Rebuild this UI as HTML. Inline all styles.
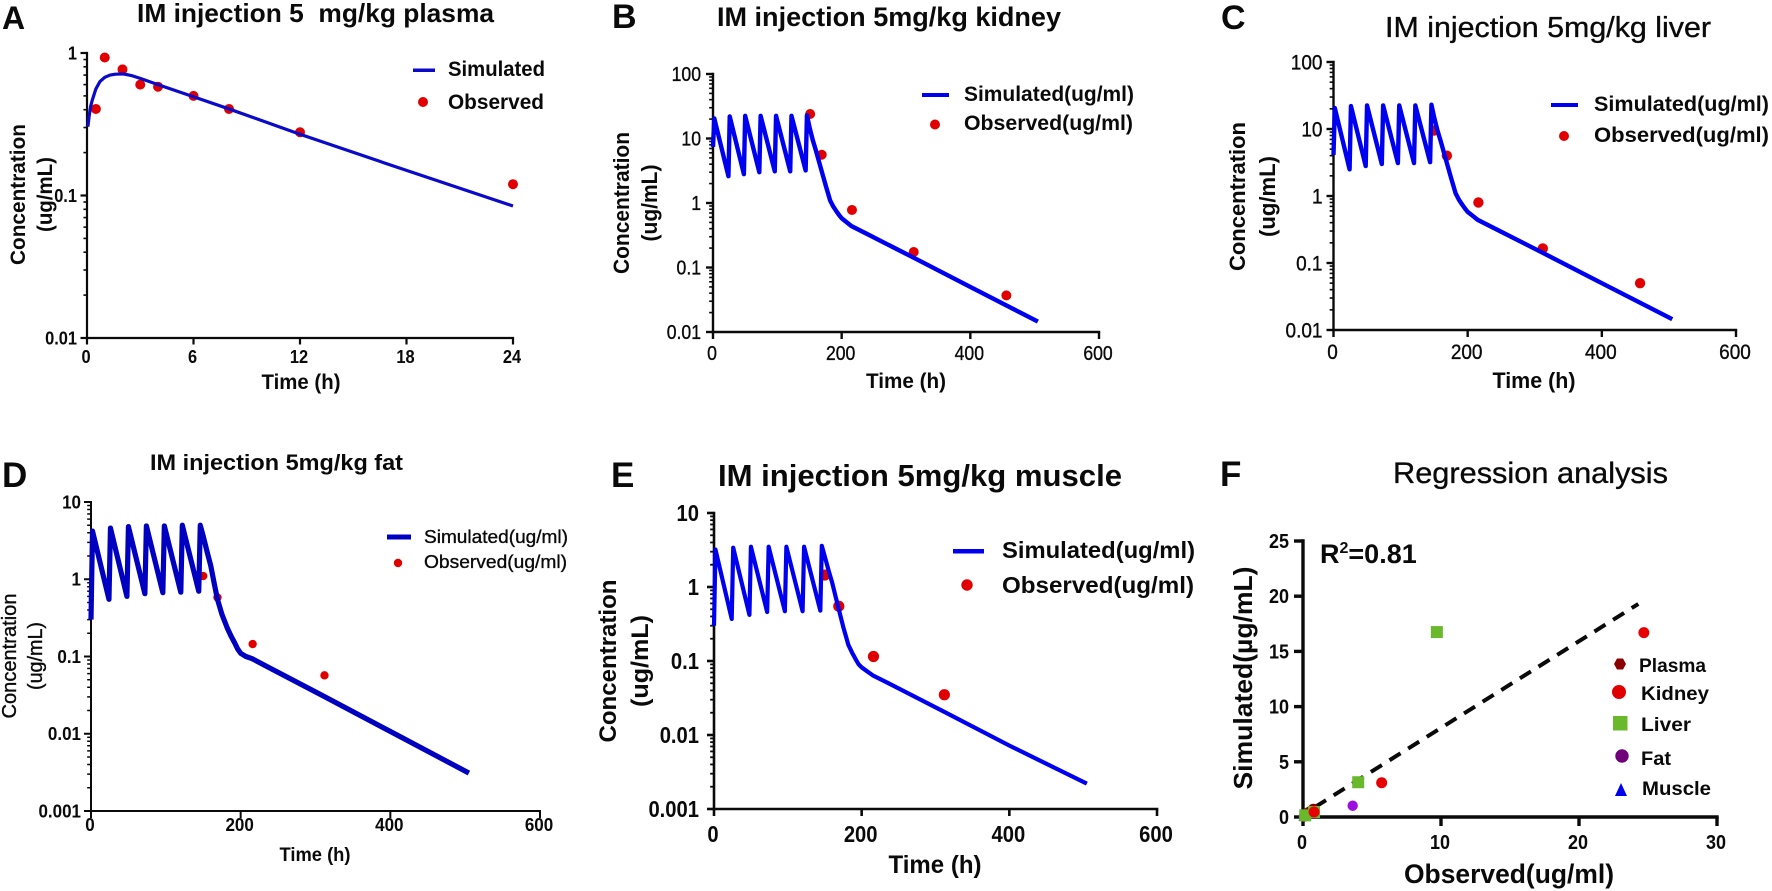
<!DOCTYPE html>
<html>
<head>
<meta charset="utf-8">
<title>IM injection 5 mg/kg simulated vs observed concentrations</title>
<style>
html,body{margin:0;padding:0;background:#fff}
svg{display:block}
text{font-family:"Liberation Sans","DejaVu Sans",sans-serif;fill:#0a0a0a;white-space:pre}
.b{font-weight:bold}
.m{stroke:#0a0a0a;stroke-width:.35px}
</style>
</head>
<body>
<svg id="fig" xmlns="http://www.w3.org/2000/svg" width="1772" height="891" viewBox="0 0 1772 891">
<g>
<text class="b" x="2" y="29" font-size="32">A</text>
<text class="b" x="612" y="28" font-size="34">B</text>
<text class="b" x="1221" y="29" font-size="34">C</text>
<text class="b" x="2" y="487" font-size="35">D</text>
<text class="b" x="611" y="487" font-size="35">E</text>
<text class="b" x="1220" y="486" font-size="35">F</text>
</g>
<g>
<text class="b" x="137" y="22" font-size="26" textLength="357" lengthAdjust="spacingAndGlyphs">IM injection 5  mg/kg plasma</text>
<text class="b" x="717" y="26" font-size="27" textLength="344" lengthAdjust="spacingAndGlyphs">IM injection 5mg/kg kidney</text>
<text class="m" x="1385" y="37" font-size="29" textLength="326" lengthAdjust="spacingAndGlyphs">IM injection 5mg/kg liver</text>
<text class="b" x="150" y="470" font-size="22" textLength="253" lengthAdjust="spacingAndGlyphs">IM injection 5mg/kg fat</text>
<text class="b" x="718" y="486" font-size="31" textLength="404" lengthAdjust="spacingAndGlyphs">IM injection 5mg/kg muscle</text>
<text class="m" x="1393" y="483" font-size="30" textLength="275" lengthAdjust="spacingAndGlyphs">Regression analysis</text>
</g>
<g>
<text class="b" transform="translate(25,194.5) rotate(-90)" text-anchor="middle" font-size="21.5" textLength="141" lengthAdjust="spacingAndGlyphs">Concentration</text>
<text class="b" transform="translate(52,194.5) rotate(-90)" text-anchor="middle" font-size="21.5" textLength="75" lengthAdjust="spacingAndGlyphs">(ug/mL)</text>
<text class="b" x="301" y="389" text-anchor="middle" font-size="21" textLength="79" lengthAdjust="spacingAndGlyphs">Time (h)</text>

<text class="b" transform="translate(629,203) rotate(-90)" text-anchor="middle" font-size="22" textLength="142" lengthAdjust="spacingAndGlyphs">Concentration</text>
<text class="b" transform="translate(657,203) rotate(-90)" text-anchor="middle" font-size="22" textLength="77" lengthAdjust="spacingAndGlyphs">(ug/mL)</text>
<text class="b" x="906" y="388" text-anchor="middle" font-size="21" textLength="80" lengthAdjust="spacingAndGlyphs">Time (h)</text>

<text class="b" transform="translate(1245,196.5) rotate(-90)" text-anchor="middle" font-size="22.5" textLength="149" lengthAdjust="spacingAndGlyphs">Concentration</text>
<text class="b" transform="translate(1275,196.5) rotate(-90)" text-anchor="middle" font-size="22.5" textLength="81" lengthAdjust="spacingAndGlyphs">(ug/mL)</text>
<text class="b" x="1534" y="388" text-anchor="middle" font-size="22" textLength="83" lengthAdjust="spacingAndGlyphs">Time (h)</text>

<text class="m" transform="translate(16,656) rotate(-90)" text-anchor="middle" font-size="20" textLength="125" lengthAdjust="spacingAndGlyphs">Concentration</text>
<text class="m" transform="translate(42,656) rotate(-90)" text-anchor="middle" font-size="20" textLength="68" lengthAdjust="spacingAndGlyphs">(ug/mL)</text>
<text class="b" x="315" y="861" text-anchor="middle" font-size="19" textLength="71" lengthAdjust="spacingAndGlyphs">Time (h)</text>

<text class="b" transform="translate(616,661) rotate(-90)" text-anchor="middle" font-size="24.5" textLength="163" lengthAdjust="spacingAndGlyphs">Concentration</text>
<text class="b" transform="translate(648,661) rotate(-90)" text-anchor="middle" font-size="24.5" textLength="92" lengthAdjust="spacingAndGlyphs">(ug/mL)</text>
<text class="b" x="935" y="873" text-anchor="middle" font-size="25" textLength="93" lengthAdjust="spacingAndGlyphs">Time (h)</text>

<text class="b" transform="translate(1252,678) rotate(-90)" text-anchor="middle" font-size="26" textLength="223" lengthAdjust="spacingAndGlyphs">Simulated(µg/mL)</text>
<text class="b" x="1509" y="883" text-anchor="middle" font-size="27" textLength="210" lengthAdjust="spacingAndGlyphs">Observed(ug/ml)</text>
</g>
<g>
<rect x="413" y="68.5" width="22" height="3.5" fill="#0a0ac8"/>
<text class="b" x="448" y="76" font-size="21" textLength="97" lengthAdjust="spacingAndGlyphs">Simulated</text>
<circle cx="423" cy="102" r="5" fill="#e00000"/>
<text class="b" x="448" y="109" font-size="21" textLength="96" lengthAdjust="spacingAndGlyphs">Observed</text>
</g>
<g>
<rect x="922" y="93" width="27" height="4" fill="#0000f0"/>
<text class="b" x="964" y="101" font-size="21.5" textLength="170" lengthAdjust="spacingAndGlyphs">Simulated(ug/ml)</text>
<circle cx="935" cy="124.5" r="5" fill="#e00000"/>
<text class="b" x="964" y="130" font-size="21.5" textLength="169" lengthAdjust="spacingAndGlyphs">Observed(ug/ml)</text>
</g>
<g>
<rect x="1551" y="103" width="27" height="4" fill="#0000f0"/>
<text class="b" x="1594" y="111" font-size="21.5" textLength="175" lengthAdjust="spacingAndGlyphs">Simulated(ug/ml)</text>
<circle cx="1564" cy="136" r="5" fill="#e00000"/>
<text class="b" x="1594" y="142" font-size="21.5" textLength="175" lengthAdjust="spacingAndGlyphs">Observed(ug/ml)</text>
</g>
<g>
<rect x="387" y="534.5" width="24" height="5" fill="#0000c0"/>
<text class="m" x="424" y="543" font-size="18.5" textLength="144" lengthAdjust="spacingAndGlyphs">Simulated(ug/ml)</text>
<circle cx="398" cy="563" r="4.2" fill="#e00000"/>
<text class="m" x="424" y="568" font-size="18.5" textLength="143" lengthAdjust="spacingAndGlyphs">Observed(ug/ml)</text>
</g>
<g>
<rect x="953" y="549" width="31" height="4.5" fill="#0000f0"/>
<text class="b" x="1002" y="558" font-size="23.5" textLength="193" lengthAdjust="spacingAndGlyphs">Simulated(ug/ml)</text>
<circle cx="967" cy="585" r="5.7" fill="#e00000"/>
<text class="b" x="1002" y="593" font-size="23.5" textLength="192" lengthAdjust="spacingAndGlyphs">Observed(ug/ml)</text>
</g>
<g>
<polygon points="1614,664 1617,658.5 1623,658.5 1626,664 1623,669.5 1617,669.5" fill="#8b0000"/>
<text class="b" x="1639" y="672" font-size="19" textLength="67" lengthAdjust="spacingAndGlyphs">Plasma</text>
<circle cx="1619" cy="692" r="7" fill="#e00000"/>
<text class="b" x="1641" y="700" font-size="19" textLength="68" lengthAdjust="spacingAndGlyphs">Kidney</text>
<rect x="1613" y="716" width="14.5" height="14.5" fill="#6ab92d"/>
<text class="b" x="1641" y="731" font-size="19" textLength="50" lengthAdjust="spacingAndGlyphs">Liver</text>
<circle cx="1622" cy="756" r="6.7" fill="#70007a"/>
<text class="b" x="1641" y="765" font-size="19" textLength="30" lengthAdjust="spacingAndGlyphs">Fat</text>
<polygon points="1621,783 1627,796 1615,796" fill="#0000f0"/>
<text class="b" x="1642" y="795" font-size="19" textLength="69" lengthAdjust="spacingAndGlyphs">Muscle</text>
</g>
<text class="b" x="1320" y="563" font-size="27">R<tspan dy="-10" font-size="16">2</tspan><tspan dy="10">=0.81</tspan></text>
<g id="plots"></g>
</svg>
<script>
// Shared simulation time base for the repeated-dosing tissues (hours)
const doseTime = [0,2,24,26,48,50,72,74,96,98,120,122,144,146,150,155,160,165,169,175,182,187,192,196,200,207,215,240,310,400,505];

// Panel A: plasma
const plasmaTime = [0.05,0.12,0.2,0.3,0.5,0.73,1,1.3,1.6,2.05,2.5,3,4,6,8,12,18,24];
const plasmaSimulated = [0.304,0.36,0.42,0.468,0.56,0.63,0.675,0.70,0.71,0.713,0.695,0.664,0.60,0.493,0.405,0.269,0.15,0.0844];
const plasmaObsTime = [0.5,1,2,3,4,6,8,12,24];
const plasmaObserved = [0.405,0.93,0.767,0.60,0.58,0.50,0.405,0.278,0.12];
const plasmaXTicks = [0,6,12,18,24];
const plasmaYTicks = [1,0.1,0.01];

// Panel B: kidney
const kidneySimulated = [7.4,20.5,2.6,22,2.8,22.5,3,22.5,3.1,22.5,3.1,22.5,3.2,23,15,9.5,6.5,4.3,3.1,1.9,1.1,0.88,0.74,0.65,0.58,0.51,0.44,0.329,0.145,0.05,0.0145];
const kidneyObsTime = [151,169,216,312,456];
const kidneyObserved = [24,5.6,0.78,0.174,0.037];
const kidneyXTicks = [0,200,400,600];
const kidneyYTicks = [100,10,1,0.1,0.01];

// Panel C: liver
const liverSimulated = [4.1,20.5,2.5,22,2.8,22.5,3,22.5,3.1,22.5,3.1,22.5,3.2,23,15,9.5,6.5,4.3,3.1,1.9,1.1,0.88,0.74,0.65,0.58,0.51,0.44,0.329,0.145,0.05,0.0145];
const liverObsTime = [150,169,216,312,457];
const liverObserved = [9.5,4,0.8,0.165,0.05];
const liverXTicks = [0,200,400,600];
const liverYTicks = [100,10,1,0.1,0.01];

// Panel D: fat
const fatSimulated = [0.3,4.2,0.55,4.6,0.6,4.8,0.65,4.9,0.67,4.9,0.68,5,0.7,5,3.6,2.3,1.5,0.85,0.55,0.35,0.235,0.185,0.15,0.125,0.11,0.1,0.094,0.07,0.031,0.0107,0.0031];
const fatObsTime = [150,169,216,312];
const fatObserved = [1.1,0.58,0.145,0.057];
const fatXTicks = [0,200,400,600];
const fatYTicks = [10,1,0.1,0.01,0.001];

// Panel E: muscle
const muscleSimulated = [0.3,3.2,0.37,3.4,0.42,3.5,0.46,3.5,0.47,3.5,0.47,3.5,0.48,3.6,2.6,1.7,1.15,0.72,0.5,0.29,0.165,0.13,0.105,0.09,0.082,0.073,0.064,0.048,0.021,0.0072,0.0022];
const muscleObsTime = [150,169,216,312];
const muscleObserved = [1.45,0.55,0.115,0.035];
const muscleXTicks = [0,200,400,600];
const muscleYTicks = [10,1,0.1,0.01,0.001];

// Panel F: regression, observed vs simulated
const regressionXTicks = [0,10,20,30];
const regressionYTicks = [0,5,10,15,20,25];
const fitObserved = [0.87,24.3];
const fitSimulated = [0.9,19.3];
const muscleScatterObs = [0.115,0.035];
const muscleScatterSim = [0.07,0.02];
const fatScatterObs = [3.6,0.58,0.14,0.06];
const fatScatterSim = [1.02,0.5,0.1,0.03];
const plasmaScatterObs = [0.75,0.6,0.5,0.4,0.28,0.12];
const plasmaScatterSim = [0.7,0.55,0.45,0.4,0.27,0.085];
const liverScatterObs = [9.7,4,0.8,0.16];
const liverScatterSim = [16.75,3.15,0.45,0.15];
const kidneyScatterObs = [24.7,5.7,0.8];
const kidneyScatterSim = [16.7,3.1,0.45];

const NS = 'http://www.w3.org/2000/svg';
const plots = document.getElementById('plots');

function make(parent, tag, attrs) {
  const el = document.createElementNS(NS, tag);
  for (const k in attrs) el.setAttribute(k, attrs[k]);
  parent.appendChild(el);
  return el;
}

function linearScale(d0, d1, r0, r1) {
  return v => r0 + (v - d0) / (d1 - d0) * (r1 - r0);
}

function logScale(d0, d1, r0, r1) {
  const a = Math.log10(d0), b = Math.log10(d1);
  return v => r0 + (Math.log10(v) - a) / (b - a) * (r1 - r0);
}

// Reference digits are condensed: taller than wide, so fit each label to a narrower advance.
function labelLength(str, w) {
  let n = 0;
  for (const c of str) n += (c === '.') ? 0.278 : 0.556;
  return (n * w).toFixed(2);
}

function drawAxes(g, name, o, sx, sy, xTicks, yTicks, isLog) {
  const color = '#0a0a0a';
  const axes = make(g, 'g', {});
  
  
  const yLine = make(axes, 'line', {x1: o.x0, x2: o.x0, y1: o.yTop - o.axisW / 2, y2: o.yBot + o.axisW / 2, stroke: color, 'stroke-width': o.axisW});
  
  
  const xLine = make(axes, 'line', {x1: o.x0 - o.axisW / 2, x2: o.x1 + o.axisW / 2, y1: o.yBot, y2: o.yBot, stroke: color, 'stroke-width': o.axisW});
  
  
  const tickCls = o.tickBold ? 'b' : 'm';
  xTicks.forEach(t => {
    const x = sx(t);
    const tick = make(axes, 'line', {x1: x, x2: x, y1: o.yBot, y2: o.yBot + o.tickLen, stroke: color, 'stroke-width': o.axisW});
    
    
    const lab = make(axes, 'text', {x: x - 1, y: o.xLabelY, 'text-anchor': 'middle', 'font-size': o.tickFont, class: tickCls, textLength: labelLength(String(t), o.tickW), lengthAdjust: 'spacingAndGlyphs'});
    
    
    lab.textContent = String(t);
  });
  yTicks.forEach((t, i) => {
    const y = sy(t);
    const tick = make(axes, 'line', {x1: o.x0 - o.tickLen, x2: o.x0, y1: y, y2: y, stroke: color, 'stroke-width': o.axisW});
    
    
    const lab = make(axes, 'text', {x: o.x0 - o.labelGap, y: y + o.tickFont * 0.35, 'text-anchor': 'end', 'font-size': o.tickFont, class: tickCls, textLength: labelLength(String(t), o.tickW), lengthAdjust: 'spacingAndGlyphs'});
    
    
    lab.textContent = String(t);
    if (isLog && i < yTicks.length - 1) {
      [2,3,4,5,6,7,8,9].forEach(m => {
        const my = sy(t / 10 * m);
        const minor = make(axes, 'line', {x1: o.x0 - o.tickLen * 0.55, x2: o.x0, y1: my, y2: my, stroke: color, 'stroke-width': o.minorW});
        
        
      });
    }
  });
}

function drawPk(name, o, simT, simC, obsT, obsC, xTicks, yTicks) {
  const g = make(plots, 'g', {});
  
  
  const sx = linearScale(xTicks[0], xTicks[xTicks.length - 1], o.x0, o.x1);
  const sy = logScale(yTicks[0], yTicks[yTicks.length - 1], o.yTop, o.yBot);
  drawAxes(g, name, o, sx, sy, xTicks, yTicks, true);
  obsT.forEach((t, i) => {
    const dot = make(g, 'circle', {cx: sx(t), cy: sy(obsC[i]), r: o.r, fill: '#e00000'});
    
    
  });
  const pts = simT.map((t, i) => sx(t).toFixed(2) + ',' + sy(simC[i]).toFixed(2)).join(' ');
  const line = make(g, 'polyline', {points: pts, fill: 'none', stroke: o.color, 'stroke-width': o.lineW, 'stroke-linejoin': 'round'});
  
  
}

drawPk('plasma', {x0:87,x1:513,yTop:53,yBot:338,axisW:2.2,minorW:1.6,tickLen:6.5,tickFont:18.5,tickW:16.4,labelGap:10,xLabelY:363,tickBold:true,r:5,color:'#0a0ac8',lineW:3.2},
  plasmaTime, plasmaSimulated, plasmaObsTime, plasmaObserved, plasmaXTicks, plasmaYTicks);
drawPk('kidney', {x0:713,x1:1099,yTop:74,yBot:332,axisW:2.4,minorW:1.6,tickLen:7,tickFont:20,tickW:17.6,labelGap:12,xLabelY:360,tickBold:false,r:5,color:'#0000f0',lineW:4.4},
  doseTime, kidneySimulated, kidneyObsTime, kidneyObserved, kidneyXTicks, kidneyYTicks);
drawPk('liver', {x0:1333.5,x1:1736,yTop:62,yBot:330,axisW:2.4,minorW:1.6,tickLen:7,tickFont:21,tickW:19,labelGap:11,xLabelY:359,tickBold:false,r:5.2,color:'#0000f0',lineW:4.4},
  doseTime, liverSimulated, liverObsTime, liverObserved, liverXTicks, liverYTicks);
drawPk('fat', {x0:91,x1:540,yTop:502,yBot:811,axisW:2,minorW:1.5,tickLen:7,tickFont:18.5,tickW:17,labelGap:10,xLabelY:831,tickBold:true,r:4.2,color:'#0000c0',lineW:5.2},
  doseTime, fatSimulated, fatObsTime, fatObserved, fatXTicks, fatYTicks);
drawPk('muscle', {x0:714,x1:1157,yTop:513,yBot:809,axisW:2.6,minorW:1.8,tickLen:7,tickFont:23,tickW:20.2,labelGap:15,xLabelY:842,tickBold:true,r:5.6,color:'#0000f0',lineW:4.2},
  doseTime, muscleSimulated, muscleObsTime, muscleObserved, muscleXTicks, muscleYTicks);

function drawRegression() {
  const name = 'regression';
  const o = {x0:1303,x1:1717,yTop:541,yBot:817,axisW:3.4,minorW:2,tickLen:9,tickFont:20,tickW:18,labelGap:14,xLabelY:849,tickBold:true};
  const g = make(plots, 'g', {});
  
  
  const sx = linearScale(0, 30, o.x0, o.x1);
  const sy = linearScale(0, 25, o.yBot, o.yTop);
  drawAxes(g, name, o, sx, sy, regressionXTicks, regressionYTicks, false);
  const fit = make(g, 'line', {x1: sx(fitObserved[0]), y1: sy(fitSimulated[0]), x2: sx(fitObserved[1]), y2: sy(fitSimulated[1]), stroke: '#0a0a0a', 'stroke-width': 4, 'stroke-dasharray': '13 9'});
  
  
  muscleScatterObs.forEach((v, i) => {
    const x = sx(v), y = sy(muscleScatterSim[i]);
    const m = make(g, 'polygon', {points: (x) + ',' + (y - 5) + ' ' + (x + 5) + ',' + (y + 4) + ' ' + (x - 5) + ',' + (y + 4), fill: '#0000f0'});
    
    
  });
  fatScatterObs.forEach((v, i) => {
    const m = make(g, 'circle', {cx: sx(v), cy: sy(fatScatterSim[i]), r: 5.2, fill: '#9b10e0'});
    
    
  });
  plasmaScatterObs.forEach((v, i) => {
    const m = make(g, 'circle', {cx: sx(v), cy: sy(plasmaScatterSim[i]), r: 5.5, fill: '#8b0000'});
    
    
  });
  liverScatterObs.forEach((v, i) => {
    const m = make(g, 'rect', {x: sx(v) - 6, y: sy(liverScatterSim[i]) - 6, width: 12, height: 12, fill: '#6ab92d'});
    
    
  });
  kidneyScatterObs.forEach((v, i) => {
    const m = make(g, 'circle', {cx: sx(v), cy: sy(kidneyScatterSim[i]), r: 5.5, fill: '#e80000'});
    
    
  });
}
drawRegression();
</script>
</body>
</html>
